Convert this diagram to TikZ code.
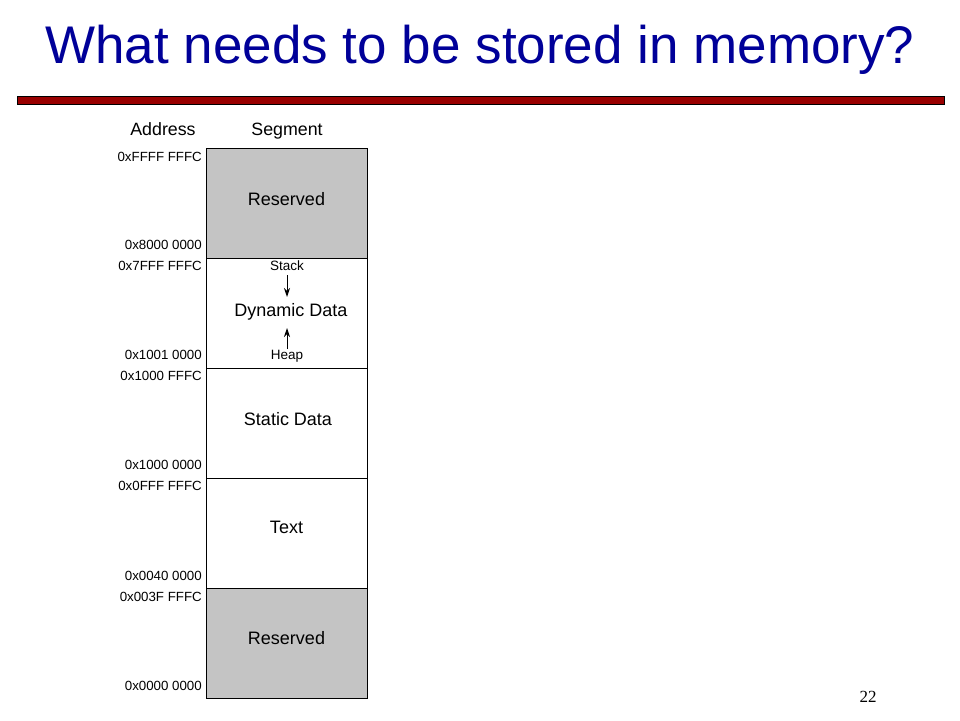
\documentclass[tikz,border=0pt]{standalone}
\usepackage{fontspec}
\setmainfont{Liberation Sans}
\newfontfamily\serifnum{Liberation Serif}
\usetikzlibrary{arrows.meta}
\definecolor{titleblue}{HTML}{000099}
\definecolor{barred}{HTML}{990000}
\definecolor{resgray}{HTML}{C4C4C4}
\tikzset{
  seg/.style={draw=black, line width=0.8pt, minimum width=161pt, minimum height=110pt, inner sep=0pt, anchor=north west},
  addr/.style={anchor=east, inner sep=0pt, font=\fontsize{13.3}{14}\selectfont},
  hdr/.style={inner sep=0pt, anchor=base, font=\fontsize{17.8}{19}\selectfont},
  segtxt/.style={inner sep=0pt, font=\fontsize{18}{19}\selectfont},
  small/.style={inner sep=0pt, font=\fontsize{13.5}{14}\selectfont},
  growarrow/.style={-{Stealth[length=9pt,width=6pt]}, line width=1pt}
}
\begin{document}
\begin{tikzpicture}[x=1pt,y=-1pt]
\useasboundingbox (0,0) rectangle (960,720);
\fill[white] (0,0) rectangle (960,720);
% title
\node[text=titleblue, inner sep=0pt, font=\fontsize{53}{60}\selectfont] (title) at (480,50) {What needs to be stored in memory?};
\node[draw=black, fill=barred, line width=0.6pt, minimum width=927pt, minimum height=8pt, inner sep=0pt] (bar) at (480.5,100) {};
% headers
\node[hdr] (haddr) at (163,135.5) {Address};
\node[hdr] (hseg) at (287,135.5) {Segment};
% segments
\node[seg, fill=resgray] (s1) at (206,148) {};
\node[seg, fill=white] (s2) at (206,258) {};
\node[seg, fill=white] (s3) at (206,368) {};
\node[seg, fill=white] (s4) at (206,478) {};
\node[seg, fill=resgray] (s5) at (206,588) {};
% segment texts
\node[segtxt] (t1) at (286.5,199) {Reserved};
\node[segtxt] (t2) at (291,312) {Dynamic Data};
\node[segtxt] (t3) at (288,419) {Static Data};
\node[segtxt] (t4) at (286.5,527) {Text};
\node[segtxt] (t5) at (286.5,638) {Reserved};
\node[small] (stack) at (287,266) {Stack};
\node[small] (heap) at (287,356) {Heap};
\coordinate (stackstart) at (287,275);
\coordinate (stackend) at (287,297);
\coordinate (heapstart) at (287,349);
\coordinate (heapend) at (287,328);
\draw[growarrow] (stackstart) -- (stackend);
\draw[growarrow] (heapstart) -- (heapend);
% addresses
\node[addr] (a1) at (202,157) {0xFFFF FFFC};
\node[addr] (a2) at (202,245) {0x8000 0000};
\node[addr] (a3) at (202,266) {0x7FFF FFFC};
\node[addr] (a4) at (202,355) {0x1001 0000};
\node[addr] (a5) at (202,376) {0x1000 FFFC};
\node[addr] (a6) at (202,465) {0x1000 0000};
\node[addr] (a7) at (202,486) {0x0FFF FFFC};
\node[addr] (a8) at (202,576) {0x0040 0000};
\node[addr] (a9) at (202,597) {0x003F FFFC};
\node[addr] (a10) at (202,686) {0x0000 0000};
% page number
\node[inner sep=0pt, font=\serifnum\fontsize{17}{18}\selectfont] (pg) at (868,697) {22};
\end{tikzpicture}
\end{document}
